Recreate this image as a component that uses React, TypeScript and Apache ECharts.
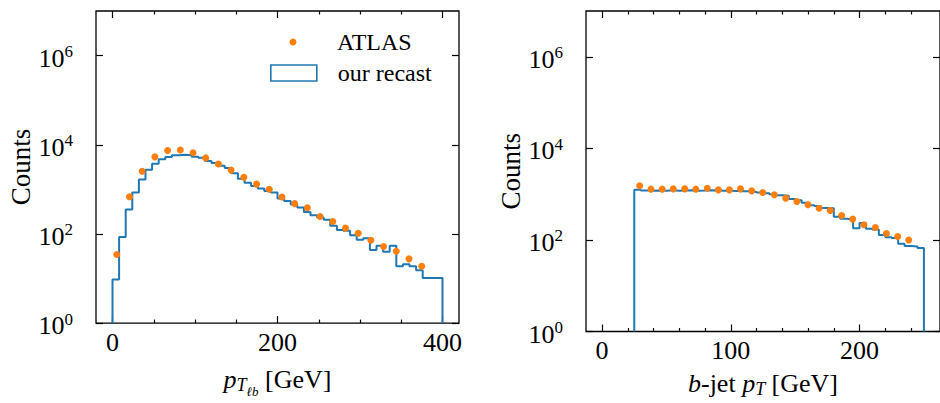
import React, { useEffect, useRef } from 'react';
import * as echarts from 'echarts';

// ---------- data ----------
const leftBinEdges = [
  0, 8, 16, 24, 32, 40, 48, 56, 64, 72, 80, 88, 96, 104, 112, 120, 128, 136, 144, 152,
  160, 168, 176, 184, 192, 200, 208, 216, 224, 232, 240, 248, 256, 264, 272, 280, 288, 296, 304, 312,
  320, 328, 336, 344, 352, 360, 368, 376, 384, 392, 400,
];
const leftRecastCounts = [
  9.5, 85, 355, 850, 1670, 2740, 3730, 4760, 5340, 5800,
  6000, 5800, 5400, 5100, 4300, 3900, 3400, 3000, 2300, 1730,
  1410, 1190, 1050, 920, 850, 620, 550, 460, 390, 312,
  263, 235, 207, 152, 123, 118, 94, 74, 80, 43.5,
  54, 40, 54, 18.8, 21, 18.8, 15.4, 10.3, 10.3, 10.3,
];
const leftAtlasX = [
  5.2, 20.6, 36.0, 51.4, 66.8, 82.2, 97.6, 113, 128.4, 143.8, 159.2, 174.6, 190,
  205.4, 220.8, 236.2, 251.6, 267, 282.4, 297.8, 313.2, 328.6, 344, 359.4, 374.8,
];
const leftAtlasY = [
  34.5, 680, 2550, 5350, 7450, 7600, 6600, 5070, 3700, 2700, 1870, 1310, 1000,
  675, 478, 385, 245, 190, 135, 104, 72, 52, 41, 27.6, 18.8,
];

const rightBinEdges = [
  25, 30, 35, 40, 45, 50, 55, 60, 65, 70, 75, 80, 85, 90, 95, 100, 105, 110, 115, 120,
  125, 130, 135, 140, 145, 150, 155, 160, 165, 170, 175, 180, 185, 190, 195, 200, 205, 210, 215, 220,
  225, 230, 235, 240, 245, 250,
];
const rightRecastCounts = [
  1250, 1200, 1180, 1200, 1190, 1210, 1190, 1200, 1210, 1190,
  1200, 1220, 1200, 1180, 1190, 1170, 1160, 1150, 1120, 1080,
  1040, 1000, 950, 920, 780, 740, 650, 570, 550, 500,
  490, 320, 290, 280, 180, 235, 175, 168, 128, 115,
  110, 82, 74, 72, 67,
];
const rightAtlasX = [
  29.2, 38.0, 46.7, 55.3, 64.2, 72.8, 81.7, 90.3, 98.9, 107.5, 116.2, 124.8, 133.8,
  142.7, 151.3, 160.0, 168.6, 177.2, 186.1, 194.7, 203.4, 212.3, 220.9, 229.6, 238.2,
];
const rightAtlasY = [
  1520, 1285, 1285, 1305, 1305, 1285, 1350, 1240, 1240, 1305, 1180, 1085, 970,
  818, 690, 584, 494, 438, 341, 285, 214, 187, 138, 119, 100,
];

const leftXTicks = [0, 200, 400];
const leftXMinorTicks = [50, 100, 150, 250, 300, 350];
const rightXTicks = [0, 100, 200];
const rightXMinorTicks = [20, 40, 60, 80, 120, 140, 160, 180, 220, 240];
const yTicks = [1, 100, 10000, 1000000];

const seriesNames = ['ATLAS', 'our recast'];
const yAxisTitle = 'Counts';

// ---------- styling ----------
const FONT = 'Liberation Serif';
const BLUE = '#1f77b4';
const ORANGE = '#ff7f0e';
const TICK_STYLE = { color: '#000', width: 1.2 };
const MAJOR_LEN = -7; // negative: pointing into the plot area
const MINOR_LEN = -3.5;

function histPoints(edges: number[], counts: number[]) {
  const pts: number[][] = [[edges[0], 1]];
  counts.forEach((c, i) => pts.push([edges[i], c]));
  pts.push([edges[edges.length - 1], counts[counts.length - 1]]);
  pts.push([edges[edges.length - 1], 1]);
  return pts;
}

function xAxesFor(gridIndex: number, min: number, max: number, major: number[], minor: number[], name: string, rich: any) {
  const base = {
    type: 'value', gridIndex, min, max,
    axisLine: { show: false, onZero: false }, splitLine: { show: false },
  };
  return [
    {
      ...base, position: 'bottom',
      axisTick: { show: true, inside: false, length: MAJOR_LEN, customValues: major, lineStyle: TICK_STYLE },
      axisLabel: { show: true, customValues: major, margin: 6, fontSize: 26, fontFamily: FONT, color: '#000' },
      name, nameLocation: 'middle', nameGap: 37,
      nameTextStyle: { fontSize: 26, fontFamily: FONT, color: '#000', rich },
    },
    { ...base, position: 'bottom', axisTick: { show: true, inside: false, length: MINOR_LEN, customValues: minor, lineStyle: TICK_STYLE }, axisLabel: { show: false } },
    { ...base, position: 'top', axisTick: { show: true, inside: false, length: MAJOR_LEN, customValues: major, lineStyle: TICK_STYLE }, axisLabel: { show: false } },
    { ...base, position: 'top', axisTick: { show: true, inside: false, length: MINOR_LEN, customValues: minor, lineStyle: TICK_STYLE }, axisLabel: { show: false } },
  ];
}

function yAxesFor(gridIndex: number) {
  const base = {
    type: 'log', logBase: 10, gridIndex, min: 1, max: 1e7,
    axisLine: { show: false, onZero: false }, splitLine: { show: false }, minorTick: { show: false },
  };
  return [
    {
      ...base, position: 'left',
      axisTick: { show: true, inside: false, length: MAJOR_LEN, customValues: yTicks, lineStyle: TICK_STYLE },
      axisLabel: {
        show: true, customValues: yTicks, margin: 23, fontSize: 26, fontFamily: FONT, color: '#000',
        formatter: (v: number) => `{b|10}{e|${Math.round(Math.log10(v))}}`,
        rich: {
          b: { fontSize: 26, fontFamily: FONT, color: '#000', lineHeight: 26, padding: [5, 0, 0, 0] },
          e: { fontSize: 17, fontFamily: FONT, color: '#000', lineHeight: 26, padding: [0, 0, 8, 0] },
        },
      },
      name: yAxisTitle, nameLocation: 'middle', nameGap: 59,
      nameTextStyle: { fontSize: 27, fontFamily: FONT, color: '#000' },
    },
    {
      ...base, position: 'right',
      axisTick: { show: true, inside: false, length: MAJOR_LEN, customValues: yTicks, lineStyle: TICK_STYLE },
      axisLabel: { show: false },
    },
  ];
}

const nameRich = {
  i: { fontSize: 26, fontFamily: FONT, fontStyle: 'italic', color: '#000', lineHeight: 30 },
  r: { fontSize: 26, fontFamily: FONT, color: '#000', lineHeight: 30 },
  s: { fontSize: 18, fontFamily: FONT, fontStyle: 'italic', color: '#000', lineHeight: 30, padding: [11, 0, 0, 0] },
  ss: { fontSize: 13, fontFamily: FONT, fontStyle: 'italic', color: '#000', lineHeight: 30, padding: [25, 0, 0, 0] },
};

export default function App() {
  const ref = useRef<HTMLDivElement>(null);
  useEffect(() => {
    if (!ref.current) return;
    const chart = echarts.init(ref.current, undefined, { renderer: 'svg' });
    const gridStyle = { show: true, borderColor: '#000', borderWidth: 1.3, backgroundColor: 'rgba(0,0,0,0)', containLabel: false };
    chart.setOption({
      animation: false,
      backgroundColor: '#fff',
      textStyle: { fontFamily: FONT },
      grid: [
        { ...gridStyle, left: 96, top: 11, width: 363, height: 320.7 },
        { ...gridStyle, left: 586, top: 11, width: 362, height: 320.7 },
      ],
      xAxis: [
        ...xAxesFor(0, -20, 420, leftXTicks, leftXMinorTicks, '{i|p}{s|T}{ss|ℓb}{r| [GeV]}', nameRich),
        ...xAxesFor(1, -12.5, 262.5, rightXTicks, rightXMinorTicks, '{i|b}{r|-jet }{i|p}{s|T}{r| [GeV]}', nameRich),
      ],
      yAxis: [...yAxesFor(0), ...yAxesFor(1)],
      legend: [
        {
          data: [{ name: seriesNames[0], icon: 'circle' }],
          left: 289.5, top: 30, padding: 0, itemWidth: 46, itemHeight: 7, selectedMode: false,
          textStyle: { fontSize: 24, fontFamily: FONT, color: '#000', padding: [0, 0, 0, 16] },
        },
        {
          data: [{ name: seriesNames[1], icon: 'rect', itemStyle: { color: 'rgba(0,0,0,0)', borderColor: BLUE, borderWidth: 1.6 } }],
          left: 270, top: 61, padding: 0, itemWidth: 46, itemHeight: 16, selectedMode: false,
          textStyle: { fontSize: 24, fontFamily: FONT, color: '#000', padding: [0, 0, 0, 16] },
        },
      ],
      series: [
        {
          name: seriesNames[1], type: 'line', xAxisIndex: 0, yAxisIndex: 0, step: 'end',
          data: histPoints(leftBinEdges, leftRecastCounts), showSymbol: false, symbol: 'none',
          lineStyle: { color: BLUE, width: 2 }, itemStyle: { color: BLUE }, z: 2,
        },
        {
          name: seriesNames[0], type: 'scatter', xAxisIndex: 0, yAxisIndex: 0,
          data: leftAtlasX.map((x, i) => [x, leftAtlasY[i]]), symbolSize: 7,
          itemStyle: { color: ORANGE, opacity: 1 }, z: 3,
        },
        {
          name: seriesNames[1], type: 'line', xAxisIndex: 4, yAxisIndex: 2, step: 'end',
          data: histPoints(rightBinEdges, rightRecastCounts), showSymbol: false, symbol: 'none',
          lineStyle: { color: BLUE, width: 2 }, itemStyle: { color: BLUE }, z: 2,
        },
        {
          name: seriesNames[0], type: 'scatter', xAxisIndex: 4, yAxisIndex: 2,
          data: rightAtlasX.map((x, i) => [x, rightAtlasY[i]]), symbolSize: 7,
          itemStyle: { color: ORANGE, opacity: 1 }, z: 3,
        },
      ],
    });
    return () => chart.dispose();
  }, []);
  return <div ref={ref} style={{ position: 'absolute', left: 0, top: 0, width: 940, height: 403 }} />;
}
